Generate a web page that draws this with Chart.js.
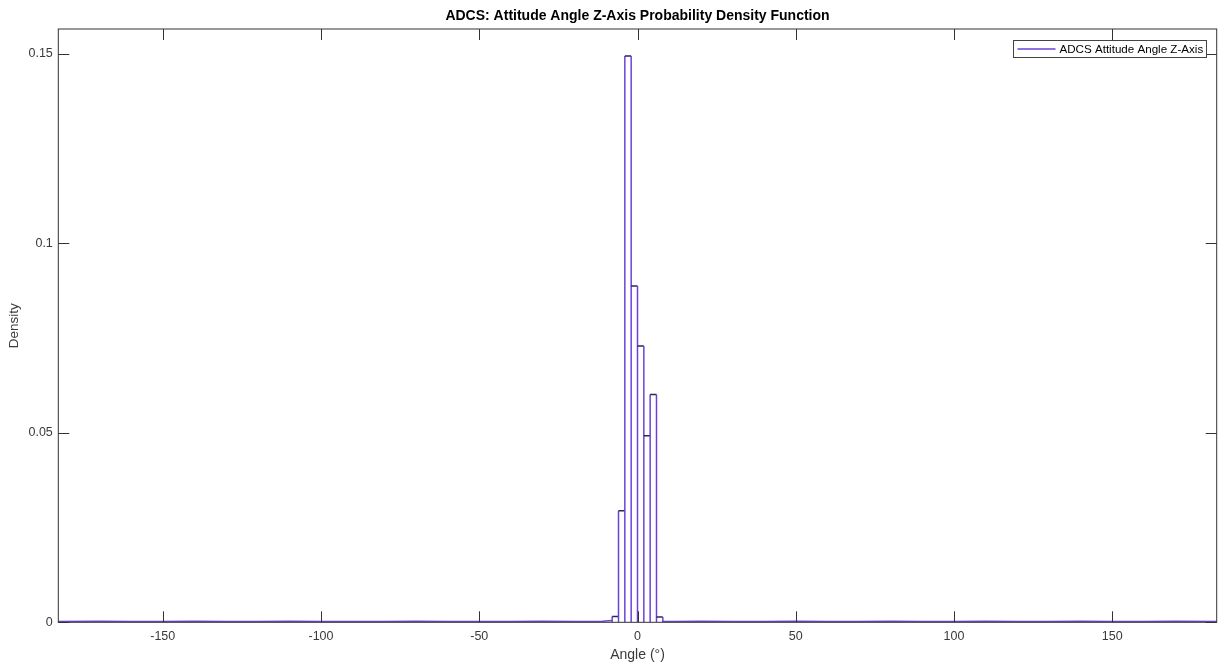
<!DOCTYPE html>
<html>
<head>
<meta charset="utf-8">
<title>ADCS Z-Axis PDF</title>
<script src="https://cdn.jsdelivr.net/npm/chart.js@4.4.1/dist/chart.umd.min.js"></script>
<style>
    html, body { margin: 0; padding: 0; background: #fff; }
    #wrap { width: 1219px; height: 664px; }
</style>
</head>
<body>
<div id="wrap"><canvas id="pdfChart" width="1219" height="664"></canvas></div>
<script>
// histogram bins around zero (2 degree wide)
const binEdges = [-8, -6, -4, -2, 0, 2, 4, 6, 8];
const binDensity = [0.0015, 0.0294, 0.1494, 0.0887, 0.0729, 0.0492, 0.0601, 0.0014];

// low density tail on both sides of the peak
const tailLeftAngle = [-183, -170, -160, -150, -140, -130, -120, -110, -100, -90, -80, -70, -60, -50, -40, -30, -20, -14, -11, -8];
const tailLeftDensity = [0.0002, 0.0003, 0.0002, 0.0002, 0.0003, 0.0002, 0.0002, 0.0003, 0.0002, 0.0002, 0.0002, 0.0003, 0.0002, 0.0002, 0.0002, 0.0003, 0.0002, 0.0002, 0.0003, 0.0005];
const tailRightAngle = [8, 12, 20, 30, 40, 50, 60, 70, 80, 90, 100, 110, 120, 130, 140, 150, 160, 170, 183];
const tailRightDensity = [0.0002, 0.0002, 0.0003, 0.0002, 0.0002, 0.0003, 0.0002, 0.0002, 0.0003, 0.0002, 0.0002, 0.0003, 0.0002, 0.0002, 0.0003, 0.0002, 0.0002, 0.0003, 0.0002];

// axis ticks
const xTicks = [-150, -100, -50, 0, 50, 100, 150];
const yTicks = [0, 0.05, 0.1, 0.15];
const yTickLabels = ['0', '0.05', '0.1', '0.15'];

const seriesLabel = 'ADCS Attitude Angle Z-Axis';
const purple = '#6b42d8';
const darkEdge = '#2c2650';
const axisColor = '#333333';
const textColor = '#3a3a3a';
const fontFamily = '"Liberation Sans", Arial, sans-serif';

// build the outline of each bar: left edge, top, right edge
const barOutline = [];
for (let i = 0; i < binDensity.length; i++) {
    barOutline.push({ x: binEdges[i], y: 0 });
    barOutline.push({ x: binEdges[i], y: binDensity[i] });
    barOutline.push({ x: binEdges[i + 1], y: binDensity[i] });
    barOutline.push({ x: binEdges[i + 1], y: 0 });
}
const tailLeft = tailLeftAngle.map((a, i) => ({ x: a, y: tailLeftDensity[i] }));
const tailRight = tailRightAngle.map((a, i) => ({ x: a, y: tailRightDensity[i] }));

// box, inward ticks and legend drawn like a matlab axes
const matlabAxes = {
    id: 'matlabAxes',
    afterDraw(chart) {
        const ctx = chart.ctx;
        const area = chart.chartArea;
        const xs = chart.scales.x, ys = chart.scales.y;
        const tl = 11;
        ctx.save();
        ctx.strokeStyle = axisColor;
        ctx.lineWidth = 1;
        ctx.strokeRect(area.left, area.top, area.right - area.left, area.bottom - area.top);
        ctx.beginPath();
        xTicks.forEach(v => {
            const px = Math.round(xs.getPixelForValue(v)) + 0.5;
            ctx.moveTo(px, area.bottom); ctx.lineTo(px, area.bottom - tl);
            ctx.moveTo(px, area.top); ctx.lineTo(px, area.top + tl);
        });
        yTicks.forEach(v => {
            const py = Math.round(ys.getPixelForValue(v)) + 0.5;
            ctx.moveTo(area.left, py); ctx.lineTo(area.left + tl, py);
            ctx.moveTo(area.right, py); ctx.lineTo(area.right - tl, py);
        });
        ctx.stroke();

        // legend in the top right corner
        const lx = 1013.5, ly = 40.5, lw = 193, lh = 17;
        ctx.fillStyle = '#fff';
        ctx.fillRect(lx, ly, lw, lh);
        ctx.strokeStyle = '#444';
        ctx.strokeRect(lx, ly, lw, lh);
        ctx.strokeStyle = purple;
        ctx.lineWidth = 1.5;
        ctx.beginPath();
        ctx.moveTo(lx + 4, ly + 8.5); ctx.lineTo(lx + 42, ly + 8.5);
        ctx.stroke();
        ctx.fillStyle = '#000';
        ctx.font = '11.6px ' + fontFamily;
        ctx.textBaseline = 'middle';
        ctx.fillText(chart.data.datasets[0].label, lx + 46, ly + 9);
        ctx.restore();
    }
};

const ctx = document.getElementById('pdfChart').getContext('2d');
new Chart(ctx, {
    type: 'line',
    data: {
        datasets: [
            {
                label: seriesLabel, data: barOutline, borderColor: purple, borderWidth: 1.5,
                pointRadius: 0, tension: 0, fill: false,
                segment: {
                    borderColor: s => (s.p0.parsed.x !== s.p1.parsed.x && s.p0.parsed.y > 0) ? darkEdge : purple
                }
            },
            { label: 'tailLeft', data: tailLeft, borderColor: purple, borderWidth: 1.5, pointRadius: 0, tension: 0, fill: false },
            { label: 'tailRight', data: tailRight, borderColor: purple, borderWidth: 1.5, pointRadius: 0, tension: 0, fill: false }
        ]
    },
    options: {
        responsive: false,
        animation: false,
        layout: { padding: { left: 0, right: 2.3, top: 0, bottom: 0 } },
        plugins: {
            legend: { display: false },
            tooltip: { enabled: false },
            title: {
                display: true,
                text: 'ADCS: Attitude Angle Z-Axis Probability Density Function',
                color: '#000',
                font: { family: fontFamily, size: 14, weight: 'bold' },
                padding: { top: 7.5, bottom: 4.7 },
                fullSize: false
            }
        },
        scales: {
            x: {
                type: 'linear', min: -183, max: 183,
                afterBuildTicks: s => { s.ticks = xTicks.map(v => ({ value: v })); },
                afterFit: s => { s.height = 41.7; },
                grid: { display: false, drawTicks: false, tickLength: 0 }, border: { display: false },
                ticks: { color: textColor, padding: 7, maxRotation: 0, autoSkip: false,
                         font: { family: fontFamily, size: 12.5 } },
                title: { display: true, text: 'Angle (°)', color: textColor, padding: { top: 0, bottom: 0 },
                         font: { family: fontFamily, size: 14 } }
            },
            y: {
                min: 0, max: 0.1565,
                afterBuildTicks: s => { s.ticks = yTicks.map(v => ({ value: v })); },
                afterFit: s => { s.width = 58.3; },
                grid: { display: false, drawTicks: false, tickLength: 0 }, border: { display: false },
                ticks: { color: textColor, padding: 5.5,
                         callback: v => yTickLabels[yTicks.indexOf(v)],
                         font: { family: fontFamily, size: 12.5 } },
                title: { display: true, text: 'Density', color: textColor, padding: { top: 6.6, bottom: 0 },
                         font: { family: fontFamily, size: 13.5 } }
            }
        }
    },
    plugins: [matlabAxes]
});
</script>
</body>
</html>
